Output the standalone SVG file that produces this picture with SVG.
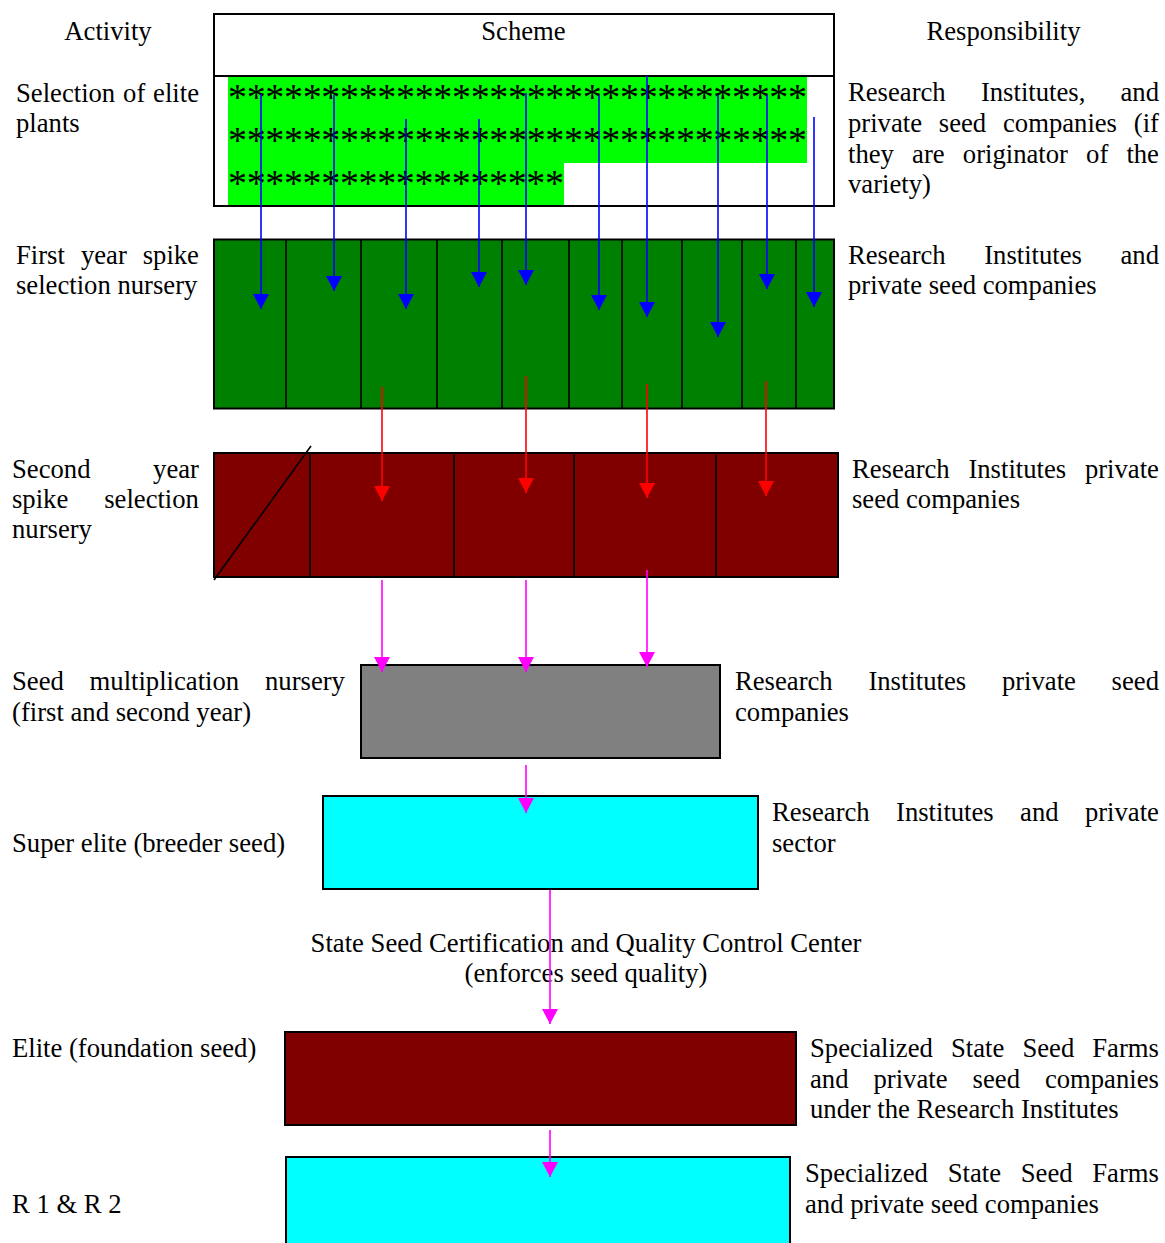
<svg xmlns="http://www.w3.org/2000/svg" width="1165" height="1243" viewBox="0 0 1165 1243">
<style>
text{font-family:"Liberation Serif","Times New Roman",serif;font-size:26.67px;fill:#000}
.ast{font-size:38px}
.box{stroke:#000;stroke-width:2}
.div{stroke:#000;stroke-width:1.6}
.blue{stroke:#0000ff;stroke-width:1.6;fill:none}
.red{stroke:#ff0000;stroke-width:1.6;fill:none}
.mag{stroke:#ff00ff;stroke-width:1.6;fill:none}
</style>
<defs>
<marker id="ab" viewBox="0 0 15 16" refX="15" refY="8" markerWidth="15" markerHeight="16" markerUnits="userSpaceOnUse" orient="auto"><path d="M0,0 L15,8 L0,16 Z" fill="#0000ff"/></marker>
<marker id="ar" viewBox="0 0 15 16" refX="15" refY="8" markerWidth="15" markerHeight="16" markerUnits="userSpaceOnUse" orient="auto"><path d="M0,0 L15,8 L0,16 Z" fill="#ff0000"/></marker>
<marker id="am" viewBox="0 0 15 16" refX="15" refY="8" markerWidth="15" markerHeight="16" markerUnits="userSpaceOnUse" orient="auto"><path d="M0,0 L15,8 L0,16 Z" fill="#ff00ff"/></marker>
</defs>
<rect width="1165" height="1243" fill="#fff"/>

<g id="headers">
<text x="108" y="40" text-anchor="middle">Activity</text>
<text x="1003.5" y="40" text-anchor="middle">Responsibility</text>
</g>

<g id="scheme-box">
<rect x="214" y="14" width="620" height="192" fill="#fff"/>
<rect x="228" y="77" width="579" height="86" fill="#00ff00"/>
<rect x="228" y="163" width="336" height="43" fill="#00ff00"/>
<text class="ast" x="228" y="110" textLength="579" lengthAdjust="spacing">*******************************</text>
<text class="ast" x="228" y="153" textLength="579" lengthAdjust="spacing">*******************************</text>
<text class="ast" x="228" y="196" textLength="336" lengthAdjust="spacing">******************</text>
<rect class="box" x="214" y="14" width="620" height="192" fill="none"/>
<line class="box" x1="214" y1="76" x2="834" y2="76"/>
<text x="523.5" y="40" text-anchor="middle">Scheme</text>
</g>

<g id="first-year">
<rect class="box" x="214" y="239.5" width="620" height="169" fill="#008000"/>
<path class="div" d="M286,239.5V408.5M361,239.5V408.5M437,239.5V408.5M502,239.5V408.5M569,239.5V408.5M622,239.5V408.5M682,239.5V408.5M742,239.5V408.5M796,239.5V408.5"/>
</g>

<g id="second-year">
<rect class="box" x="214" y="453" width="624" height="124" fill="#800000"/>
<path class="div" d="M310,453V577M454,453V577M574,453V577M716,453V577"/>
<line class="div" x1="214" y1="580" x2="311" y2="446"/>
</g>

<g id="seed-multiplication">
<rect class="box" x="361" y="665" width="359" height="93" fill="#808080"/>
</g>

<g id="super-elite">
<rect class="box" x="323" y="796" width="435" height="93" fill="#00ffff"/>
</g>

<g id="elite">
<rect class="box" x="285" y="1032" width="511" height="93" fill="#800000"/>
</g>

<g id="r1r2">
<rect class="box" x="286" y="1157" width="504" height="100" fill="#00ffff"/>
</g>

<g id="activity-labels">
<text y="102"><tspan x="16">Selection</tspan><tspan x="123.1">of</tspan><tspan x="153.1">elite</tspan></text>
<text x="16" y="132">plants</text>
<text y="264"><tspan x="16">First</tspan><tspan x="80.9">year</tspan><tspan x="142.7">spike</tspan></text>
<text x="16" y="294">selection nursery</text>
<text y="478"><tspan x="12">Second</tspan><tspan x="153.1">year</tspan></text>
<text y="508"><tspan x="12">spike</tspan><tspan x="104.2">selection</tspan></text>
<text x="12" y="538">nursery</text>
<text y="690"><tspan x="12">Seed</tspan><tspan x="89.6">multiplication</tspan><tspan x="265">nursery</tspan></text>
<text x="12" y="721">(first and second year)</text>
<text x="12" y="852">Super elite (breeder seed)</text>
<text x="12" y="1057">Elite (foundation seed)</text>
<text x="12" y="1213">R 1 &amp; R 2</text>
</g>

<g id="responsibility-labels">
<text y="101"><tspan x="848">Research</tspan><tspan x="980.9">Institutes,</tspan><tspan x="1120.5">and</tspan></text>
<text y="132"><tspan x="848">private</tspan><tspan x="938.8">seed</tspan><tspan x="1003">companies</tspan><tspan x="1133.8">(if</tspan></text>
<text y="163"><tspan x="848">they</tspan><tspan x="912.1">are</tspan><tspan x="962.8">originator</tspan><tspan x="1086.1">of</tspan><tspan x="1126.4">the</tspan></text>
<text x="848" y="193">variety)</text>
<text y="264"><tspan x="848">Research</tspan><tspan x="984.2">Institutes</tspan><tspan x="1120.5">and</tspan></text>
<text x="848" y="294">private seed companies</text>
<text y="478"><tspan x="852">Research</tspan><tspan x="968.4">Institutes</tspan><tspan x="1084.9">private</tspan></text>
<text x="852" y="508">seed companies</text>
<text y="690"><tspan x="735">Research</tspan><tspan x="868.4">Institutes</tspan><tspan x="1001.9">private</tspan><tspan x="1111.6">seed</tspan></text>
<text x="735" y="721">companies</text>
<text y="821"><tspan x="772">Research</tspan><tspan x="896">Institutes</tspan><tspan x="1020.1">and</tspan><tspan x="1084.9">private</tspan></text>
<text x="772" y="852">sector</text>
<text y="1057"><tspan x="810">Specialized</tspan><tspan x="951">State</tspan><tspan x="1022.4">Seed</tspan><tspan x="1092.3">Farms</tspan></text>
<text y="1088"><tspan x="810">and</tspan><tspan x="873.5">private</tspan><tspan x="972.6">seed</tspan><tspan x="1044.9">companies</tspan></text>
<text x="810" y="1118">under the Research Institutes</text>
<text y="1182"><tspan x="805">Specialized</tspan><tspan x="947.7">State</tspan><tspan x="1020.8">Seed</tspan><tspan x="1092.3">Farms</tspan></text>
<text x="805" y="1213">and private seed companies</text>
</g>

<g id="certification-note">
<text x="586" y="952" text-anchor="middle">State Seed Certification and Quality Control Center</text>
<text x="586" y="982" text-anchor="middle">(enforces seed quality)</text>
</g>

<g id="connectors">
<line class="blue" x1="261" y1="94" x2="261" y2="309" marker-end="url(#ab)"/>
<line class="blue" x1="334" y1="95" x2="334" y2="291" marker-end="url(#ab)"/>
<line class="blue" x1="406" y1="119" x2="406" y2="309" marker-end="url(#ab)"/>
<line class="blue" x1="479" y1="119" x2="479" y2="287" marker-end="url(#ab)"/>
<line class="blue" x1="526" y1="93" x2="526" y2="285" marker-end="url(#ab)"/>
<line class="blue" x1="599" y1="95" x2="599" y2="310" marker-end="url(#ab)"/>
<line class="blue" x1="647" y1="76" x2="647" y2="317" marker-end="url(#ab)"/>
<line class="blue" x1="718" y1="95" x2="718" y2="337" marker-end="url(#ab)"/>
<line class="blue" x1="767" y1="95" x2="767" y2="289" marker-end="url(#ab)"/>
<line class="blue" x1="814" y1="117" x2="814" y2="307" marker-end="url(#ab)"/>
<line class="red" x1="382" y1="387" x2="382" y2="501" marker-end="url(#ar)"/>
<line class="red" x1="526" y1="376" x2="526" y2="493" marker-end="url(#ar)"/>
<line class="red" x1="647" y1="384" x2="647" y2="498" marker-end="url(#ar)"/>
<line class="red" x1="766" y1="381" x2="766" y2="496" marker-end="url(#ar)"/>
<line class="mag" x1="382" y1="580" x2="382" y2="672" marker-end="url(#am)"/>
<line class="mag" x1="526" y1="580" x2="526" y2="672" marker-end="url(#am)"/>
<line class="mag" x1="647" y1="570" x2="647" y2="667" marker-end="url(#am)"/>
<line class="mag" x1="526" y1="765" x2="526" y2="813" marker-end="url(#am)"/>
<line class="mag" x1="550" y1="890" x2="550" y2="1024" marker-end="url(#am)"/>
<line class="mag" x1="550" y1="1130" x2="550" y2="1177" marker-end="url(#am)"/>
</g>
</svg>
